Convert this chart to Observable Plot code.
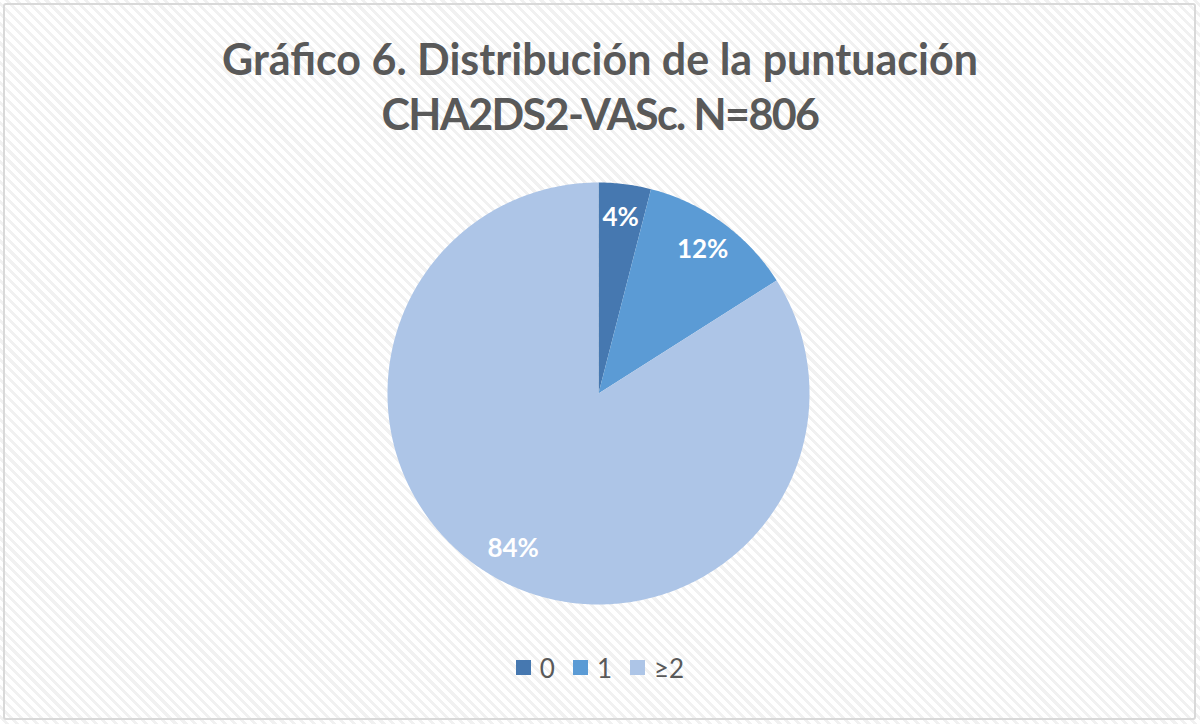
<!DOCTYPE html>
<html>
<head>
<meta charset="utf-8">
<script src="https://cdn.jsdelivr.net/npm/d3@7"></script>
<script src="https://cdn.jsdelivr.net/npm/@observablehq/plot@0.6"></script>
<style>
  html, body { margin: 0; padding: 0; background: #fff; }
  #frame {
    position: relative; width: 1200px; height: 724px; box-sizing: border-box;
    overflow: hidden;
    background: repeating-linear-gradient(45deg, #ffffff 0px, #ffffff 4px, #f1f1f1 4px, #f1f1f1 7px);
  }
  #border {
    position: absolute; left: 3px; top: 3px; width: 1193px; height: 717px; box-sizing: border-box;
    border: 2px solid #d9d9d9; border-radius: 3px;
  }
  #title {
    position: absolute; left: 0; top: 31px; width: 1200px; text-align: center;
    font-family: Lato, sans-serif; font-weight: bold; font-size: 43px; line-height: 55px; color: #595959;
  }
  #title .l2 { letter-spacing: -1.6px; }
  #chart { position: absolute; left: 0; top: 160px; }
  #legend {
    position: absolute; left: 0; top: 649px; width: 1200px; text-align: center;
    font-family: Lato, sans-serif; font-size: 26px; color: #595959;
  }
  .item { display: inline-flex; align-items: center; margin: 0 9px; }
  .sw { display: inline-block; width: 15px; height: 15px; margin-right: 9px; }
</style>
</head>
<body>
<div id="frame">
  <div id="border"></div>
  <div id="title">Gráfico 6. Distribución de la puntuación<br><span class="l2">CHA2DS2-VASc. N=806</span></div>
  <div id="chart"></div>
  <div id="legend"></div>
</div>
<script>
const categories = ["0", "1", "≥2"];
const values = [4, 12, 84];
const labels = ["4%", "12%", "84%"];
const colors = ["#4678b0", "#5b9bd5", "#adc5e7"];

const arcs = d3.pie().sort(null).value(d => d)(values);

function pt(a, r) { return [r * Math.sin(a), -r * Math.cos(a)]; }

const features = arcs.map((a, i) => {
  const ring = [[0, 0]];
  const n = Math.max(2, Math.ceil((a.endAngle - a.startAngle) / 0.01));
  for (let k = 0; k <= n; k++) {
    ring.push(pt(a.startAngle + (a.endAngle - a.startAngle) * k / n, 1));
  }
  ring.push([0, 0]);
  return {type: "Feature", properties: {cat: categories[i]}, geometry: {type: "Polygon", coordinates: [ring]}};
});

const circle = {type: "Polygon", coordinates: [d3.range(0, 361, 2).map(d => pt(d * Math.PI / 180, 1))]};

const labelData = arcs.map((a, i) => {
  const [x, y] = pt((a.startAngle + a.endAngle) / 2, 0.84);
  return {x, y, label: labels[i]};
});

const chart = Plot.plot({
  width: 1200,
  height: 466,
  marginTop: 22, marginBottom: 22, marginLeft: 0, marginRight: 4,
  projection: {type: "identity", domain: circle},
  color: {domain: categories, range: colors},
  marks: [
    Plot.geo(features, {fill: d => d.properties.cat, stroke: "none"}),
    Plot.text(labelData, {x: "x", y: "y", text: "label", fill: "white", fontSize: 26, fontWeight: "bold", fontFamily: "Lato, sans-serif"})
  ],
  style: {background: "transparent", overflow: "visible"}
});
document.getElementById("chart").appendChild(chart);

const legend = document.getElementById("legend");
categories.forEach((c, i) => {
  const it = document.createElement("span");
  it.className = "item";
  it.innerHTML = `<span class="sw" style="background:${colors[i]}"></span><span>${c}</span>`;
  legend.appendChild(it);
});
</script>
</body>
</html>
